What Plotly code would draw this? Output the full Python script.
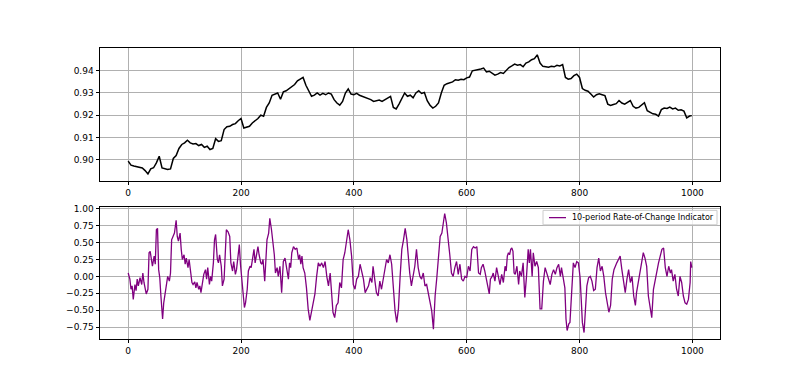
import plotly.graph_objects as go

# ---- price series (read every 5 steps) ----
price_x = list(range(0, 1000, 5)) + [999]
price_v = [
 0.8993,0.8975,0.8971,0.8968,0.8966,0.8962,0.8950,0.8935,0.8958,0.8963,
 0.8985,0.9015,0.8962,0.8957,0.8955,0.8958,0.9005,0.9018,0.9050,0.9068,
 0.9075,0.9087,0.9075,0.9070,0.9072,0.9063,0.9068,0.9055,0.9060,0.9045,
 0.9050,0.9094,0.9082,0.9085,0.9135,0.9148,0.9150,0.9158,0.9162,0.9175,
 0.9185,0.9142,0.9145,0.9150,0.9165,0.9175,0.9185,0.9200,0.9195,0.9235,
 0.9255,0.9290,0.9295,0.9300,0.9272,0.9305,0.9310,0.9320,0.9330,0.9338,
 0.9355,0.9362,0.9370,0.9335,0.9312,0.9285,0.9290,0.9300,0.9290,0.9298,
 0.9292,0.9300,0.9295,0.9270,0.9255,0.9245,0.9262,0.9300,0.9318,0.9295,
 0.9292,0.9298,0.9290,0.9285,0.9280,0.9276,0.9270,0.9262,0.9264,0.9268,
 0.9262,0.9270,0.9278,0.9285,0.9235,0.9228,0.9250,0.9278,0.9300,0.9285,
 0.9290,0.9278,0.9300,0.9310,0.9298,0.9302,0.9265,0.9245,0.9232,0.9240,
 0.9255,0.9300,0.9335,0.9342,0.9345,0.9350,0.9360,0.9358,0.9362,0.9360,
 0.9368,0.9372,0.9400,0.9402,0.9405,0.9408,0.9412,0.9395,0.9398,0.9390,
 0.9380,0.9385,0.9392,0.9388,0.9400,0.9415,0.9422,0.9430,0.9425,0.9428,
 0.9418,0.9435,0.9440,0.9450,0.9455,0.9472,0.9435,0.9420,0.9418,0.9416,
 0.9420,0.9418,0.9425,0.9422,0.9428,0.9370,0.9362,0.9365,0.9378,0.9385,
 0.9370,0.9320,0.9312,0.9308,0.9295,0.9282,0.9292,0.9296,0.9292,0.9288,
 0.9250,0.9244,0.9248,0.9252,0.9266,0.9255,0.9250,0.9258,0.9266,0.9240,
 0.9232,0.9235,0.9245,0.9256,0.9220,0.9212,0.9206,0.9204,0.9196,0.9225,
 0.9232,0.9230,0.9236,0.9228,0.9232,0.9222,0.9224,0.9218,0.9188,0.9196,
 0.9198,
]

# ---- 10-period rate of change ----
roc_x = [
 0,3,5,7,9,12,14,16,18,21,24,26,28,30,32,35,37,39,41,43,46,48,50,52,54,56,58,61,63,66,
 68,70,73,75,77,80,82,85,87,89,92,94,96,99,101,103,106,108,111,113,115,118,120,122,125,127,129,132,134,137,
 139,141,144,146,148,151,153,155,158,160,162,165,167,170,172,174,177,180,182,185,187,190,192,194,197,199,202,204,206,208,
 211,213,216,218,220,223,225,228,230,232,235,237,239,242,244,246,249,251,254,257,259,261,264,266,269,272,275,278,281,284,
 286,288,290,293,296,299,302,304,306,308,310,313,316,319,322,325,328,331,334,337,340,343,346,349,352,355,358,361,363,366,
 369,372,375,378,381,384,387,390,393,396,399,402,405,408,411,414,417,420,423,426,429,432,434,437,440,443,446,449,452,455,
 458,461,464,467,470,473,476,479,482,485,488,491,494,497,499,502,505,508,511,514,517,520,523,526,529,532,535,538,541,544,
 547,550,553,556,558,561,564,567,570,573,576,579,582,585,588,591,594,597,600,603,606,609,612,615,618,621,624,626,629,632,
 635,638,640,642,645,647,650,653,656,659,662,665,668,670,672,674,676,678,680,682,684,686,689,692,694,697,700,703,706,709,
 711,713,716,718,721,724,727,730,733,736,739,742,745,748,751,754,757,760,763,766,768,771,774,776,778,781,783,786,789,792,
 795,798,801,803,805,808,810,813,816,819,822,825,828,831,834,837,840,843,846,849,852,855,858,861,863,866,869,872,875,878,
 881,884,887,890,893,896,899,901,904,907,910,913,916,919,922,925,928,931,934,937,940,943,946,949,952,955,958,961,963,966,
 969,972,975,978,981,984,987,990,993,996,997,999,
]
roc_v = [
 0.05,-0.04,-0.19,-0.14,-0.34,-0.12,-0.21,-0.04,-0.14,-0.02,-0.12,0.05,-0.09,-0.21,-0.26,-0.19,0.35,0.37,0.27,0.15,0.30,0.18,0.69,0.71,0.10,-0.02,-0.29,-0.63,-0.39,-0.24,
 -0.14,0.00,-0.07,0.05,0.54,0.59,0.64,0.83,0.59,0.52,0.64,0.40,0.25,0.32,0.18,0.27,0.13,0.25,0.05,-0.09,-0.12,-0.08,-0.17,-0.09,-0.19,-0.14,-0.24,-0.09,0.03,0.10,
 -0.04,0.13,-0.12,0.00,-0.07,0.20,0.54,0.62,0.25,0.20,0.32,0.15,-0.14,-0.04,0.25,0.69,0.66,0.59,0.20,0.08,0.22,0.03,0.10,0.22,0.47,0.18,-0.09,-0.29,-0.46,-0.39,
 -0.19,0.08,0.15,0.13,0.27,0.40,0.20,0.35,0.44,0.32,0.20,0.18,0.25,-0.07,0.30,0.54,0.64,0.86,0.69,0.49,0.32,0.05,0.13,0.00,0.15,-0.24,0.22,0.27,0.13,-0.04,
 0.20,0.13,0.35,0.44,0.40,0.42,0.25,0.32,0.18,0.30,0.13,0.05,-0.17,-0.48,-0.65,-0.51,-0.39,-0.26,0.00,0.20,0.15,0.20,0.13,0.22,0.00,-0.14,0.05,-0.24,-0.53,-0.61,
 -0.43,-0.39,-0.09,-0.17,0.25,0.35,0.49,0.69,0.54,0.30,-0.12,-0.19,-0.04,0.00,0.18,0.08,-0.04,-0.24,-0.19,-0.14,-0.02,-0.09,0.15,-0.04,-0.24,-0.29,-0.07,-0.19,-0.04,0.10,
 0.25,0.20,0.32,0.18,-0.24,-0.51,-0.68,-0.48,0.00,0.40,0.54,0.71,0.54,0.22,0.05,-0.14,0.00,0.15,0.40,0.13,0.00,-0.04,0.05,-0.14,-0.12,-0.24,-0.34,-0.51,-0.78,-0.29,
 -0.02,0.27,0.59,0.64,0.74,0.93,0.79,0.49,0.32,0.05,0.00,0.13,0.22,0.03,0.18,-0.04,-0.07,0.00,-0.02,0.15,0.08,0.40,0.44,0.42,0.44,0.05,0.03,0.13,0.18,0.08,
 -0.04,-0.14,-0.26,-0.04,0.00,0.05,-0.07,0.13,-0.02,-0.12,0.03,-0.09,0.15,0.08,0.30,0.35,0.32,0.40,0.42,0.37,0.05,0.03,0.15,-0.12,0.08,0.00,0.20,-0.31,0.00,0.40,
 0.20,0.40,0.00,0.35,0.15,0.22,0.13,-0.48,-0.48,-0.07,0.13,0.05,-0.02,-0.12,0.03,0.10,0.03,0.13,0.18,0.00,0.13,0.00,-0.17,-0.63,-0.80,-0.70,-0.68,-0.24,0.20,0.13,
 0.22,0.20,-0.02,-0.34,-0.68,-0.83,-0.48,-0.14,-0.02,0.00,-0.07,-0.21,-0.19,0.13,0.27,0.08,0.15,0.00,-0.24,-0.41,-0.53,-0.43,-0.04,0.10,0.15,0.20,0.25,0.30,0.10,-0.04,
 -0.24,-0.04,0.10,-0.09,0.00,-0.29,-0.43,-0.24,-0.09,0.05,0.22,0.35,0.27,0.15,-0.29,-0.43,-0.61,-0.19,-0.04,0.05,0.20,0.30,0.40,0.42,0.13,0.00,0.15,0.05,0.10,-0.07,
 0.03,-0.19,-0.29,0.00,-0.09,-0.29,-0.39,-0.41,-0.34,-0.09,0.22,0.13,
]

x_ticks = [0, 200, 400, 600, 800, 1000]
price_ticks = [0.90, 0.91, 0.92, 0.93, 0.94]
roc_ticks = [-0.75, -0.50, -0.25, 0.00, 0.25, 0.50, 0.75, 1.00]
roc_ticklabels = [f"{t:.2f}".replace("-", "\u2212") for t in roc_ticks]
legend_name = "10-period Rate-of-Change Indicator"

W, H = 792, 372   # page has an 8px body margin


def px(x):  # page pixel -> paper x
    return (x - 8) / W


def py(y):  # page pixel -> paper y
    return 1 - (y - 8) / H


fig = go.Figure()
fig.add_trace(go.Scatter(x=price_x, y=price_v, mode="lines",
                         line=dict(color="black", width=1.5),
                         showlegend=False, xaxis="x", yaxis="y"))
fig.add_trace(go.Scatter(x=roc_x, y=roc_v, mode="lines", name=legend_name,
                         line=dict(color="purple", width=1.3),
                         showlegend=False, xaxis="x2", yaxis="y2"))

font = dict(family="DejaVu Sans", size=9, color="black")
common = dict(showline=True, mirror=True, linecolor="black", linewidth=1,
              ticks="outside", ticklen=3.5, tickcolor="black", tickwidth=0.8,
              showgrid=True, gridcolor="#b0b0b0", gridwidth=0.8,
              zeroline=False, tickfont=font)

xdom = [px(100), px(720)]
fig.update_layout(
    width=W, height=H,
    margin=dict(l=0, r=0, t=0, b=0),
    paper_bgcolor="white", plot_bgcolor="white",
    font=font,
    showlegend=False,
    xaxis=dict(domain=xdom, anchor="y", range=[-49.95, 1048.95],
               tickvals=x_ticks, **common),
    yaxis=dict(domain=[py(179), py(45.7)], anchor="x", range=[0.8905, 0.9501],
               tickvals=price_ticks, tickformat=".2f", **common),
    xaxis2=dict(domain=xdom, anchor="y2", range=[-49.95, 1048.95],
                tickvals=x_ticks, **common),
    yaxis2=dict(domain=[py(338.3), py(206)], anchor="x2", range=[-0.92, 1.02],
                tickvals=roc_ticks, ticktext=roc_ticklabels, **common),
)

# legend box (matplotlib style, upper right of the lower panel)
fig.add_shape(type="rect", xref="paper", yref="paper",
              x0=px(543), x1=px(717), y0=py(223.5), y1=py(209),
              line=dict(color="#cccccc", width=1), fillcolor="rgba(255,255,255,0.8)")
fig.add_shape(type="line", xref="paper", yref="paper",
              x0=px(549), x1=px(566), y0=py(216.3), y1=py(216.3),
              line=dict(color="purple", width=1.3))
fig.add_annotation(text=legend_name, xref="paper", yref="paper",
                   x=px(569.5), y=py(216.3), xanchor="left", yanchor="middle",
                   showarrow=False, font=dict(family="DejaVu Sans", size=8, color="black"))

fig.write_html("out.html")
